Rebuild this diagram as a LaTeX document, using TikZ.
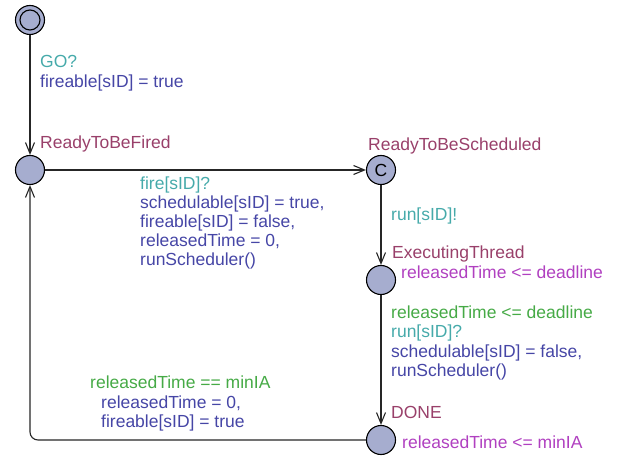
\documentclass[tikz,border=0pt]{standalone}
\usepackage{fontspec}
\setmainfont{Liberation Sans}
\usetikzlibrary{arrows.meta}
\definecolor{locfill}{HTML}{A6ADCF}
\definecolor{namecol}{HTML}{99406A}
\definecolor{synccol}{HTML}{46AAAA}
\definecolor{assigncol}{HTML}{4646A6}
\definecolor{guardcol}{HTML}{46AA46}
\definecolor{invcol}{HTML}{B040C0}
\begin{document}
\begin{tikzpicture}[x=1pt,y=-1pt,
  loc/.style={circle, draw=black, fill=locfill, line width=1.1pt, minimum size=29pt, inner sep=0pt},
  edge/.style={draw=black!85, line width=1.1pt, -{Straight Barb[length=11pt,width=9pt]}},
  lbl/.style={inner sep=0pt, anchor=north west, align=left, font=\fontsize{17.5}{19}\selectfont},
]
\useasboundingbox (0,0) rectangle (621,457);

% locations
\node[loc] (init) at (30,20) {};
\node[circle, draw=black, line width=1.1pt, minimum size=20pt, inner sep=0pt] (initin) at (init.center) {};
\node[loc] (fired) at (30,170) {};
\node[loc, font=\fontsize{17.5}{19}\selectfont] (sched) at (381,170) {C};
\node[loc] (exec) at (381,280) {};
\node[loc] (done) at (381,440) {};

% location names and invariants
\node[lbl, text=namecol] (nfired) at (40,136) {ReadyToBeFired};
\node[lbl, text=namecol] (nsched) at (368,138) {ReadyToBeScheduled};
\node[lbl, text=namecol] (nexec) at (392,246) {ExecutingThread};
\node[lbl, text=invcol] (iexec) at (401,266) {releasedTime <= deadline};
\node[lbl, text=namecol] (ndone) at (391,406) {DONE};
\node[lbl, text=invcol] (idone) at (402,436) {releasedTime <= minIA};

% transitions
\draw[edge] (init) -- (fired);
\draw[edge] (fired) -- (sched);
\draw[edge] (sched) -- (exec);
\draw[edge] (exec) -- (done);
\draw[edge, rounded corners=8pt] (done.west) -| (fired.south);

% transition labels
\node[lbl, text=synccol] (go) at (40,55) {GO?};
\node[lbl, text=assigncol] (goa) at (40,75) {fireable[sID] = true};

\node[lbl, text=synccol] (fire) at (140,177) {fire[sID]?};
\node[lbl, text=assigncol] (firea) at (140,196) {schedulable[sID] = true,\\fireable[sID] = false,\\releasedTime = 0,\\runScheduler()};

\node[lbl, text=synccol] (runs) at (391,208) {run[sID]!};

\node[lbl, text=guardcol] (rung) at (391,306) {releasedTime <= deadline};
\node[lbl, text=synccol] (runr) at (391,325) {run[sID]?};
\node[lbl, text=assigncol] (runa) at (391,345) {schedulable[sID] = false,\\runScheduler()};

\node[lbl, text=guardcol] (backg) at (90,376) {releasedTime == minIA};
\node[lbl, text=assigncol] (backa) at (101,396) {releasedTime = 0,\\fireable[sID] = true};
\end{tikzpicture}
\end{document}
